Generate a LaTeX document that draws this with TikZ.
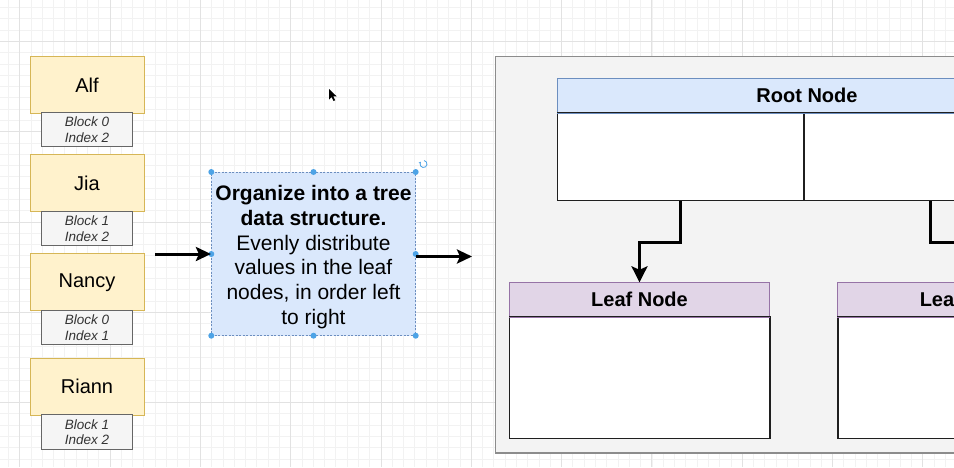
\documentclass[tikz,border=0pt]{standalone}
\usepackage{fontspec}
\setmainfont{Liberation Sans}
\usetikzlibrary{arrows.meta}

\definecolor{yelFill}{HTML}{FFF2CC}
\definecolor{yelStroke}{HTML}{D6B656}
\definecolor{tagFill}{HTML}{F5F5F5}
\definecolor{tagStroke}{HTML}{666666}
\definecolor{tagText}{HTML}{333333}
\definecolor{blueFill}{HTML}{DAE8FC}
\definecolor{blueStroke}{HTML}{6C8EBF}
\definecolor{purpleFill}{HTML}{E1D5E7}
\definecolor{purpleStroke}{HTML}{9673A6}
\definecolor{panelFill}{HTML}{F3F3F3}
\definecolor{panelStroke}{HTML}{8C8C8C}
\definecolor{handleBlue}{HTML}{4DA3E6}
\definecolor{gridMinor}{HTML}{F2F2F2}
\definecolor{gridMajor}{HTML}{E2E2E2}

\tikzset{
  namebox/.style={draw=yelStroke, fill=yelFill, line width=1pt, minimum width=114pt,
    minimum height=57pt, inner sep=0pt, font=\fontsize{20}{24}\selectfont},
  tagbox/.style={draw=tagStroke, fill=tagFill, line width=1pt, minimum width=91pt,
    minimum height=34.5pt, inner sep=0pt, align=center,
    font=\fontsize{13.5}{15.6}\selectfont\itshape, text=tagText},
  notebox/.style={draw=blueStroke, fill=blueFill, line width=0.8pt, dash pattern=on 2pt off 1.5pt,
    minimum width=204.4pt, minimum height=163.7pt, inner sep=0pt,
    font=\fontsize{21}{24.7}\selectfont},
  panel/.style={draw=panelStroke, fill=panelFill, line width=1.5pt, inner sep=0pt, anchor=north west},
  roothead/.style={draw=blueStroke, fill=blueFill, line width=1pt, inner sep=0pt, anchor=north west,
    minimum height=34pt, font=\fontsize{20}{24}\selectfont\bfseries},
  leafhead/.style={draw=purpleStroke, fill=purpleFill, line width=1pt, inner sep=0pt, anchor=north west,
    minimum width=260.6pt, minimum height=34pt, font=\fontsize{20}{24}\selectfont\bfseries},
  cell/.style={draw=black!88, fill=white, line width=1.2pt, inner sep=0pt, anchor=north west},
  flow/.style={line width=3pt, -{Stealth[length=15pt,width=14pt,inset=3pt]}},
  link/.style={line width=3pt, line join=miter, -{Stealth[length=16pt,width=16pt,inset=3.5pt]}},
  handle/.style={fill=handleBlue, draw=none},
}

\begin{document}
\begin{tikzpicture}[x=1pt,y=-1pt]
\useasboundingbox (0,0) rectangle (954,467);
\clip (0,0) rectangle (954,467);
\fill[white] (0,0) rectangle (954,467);

% background grid
\foreach \i in {0,...,91}
  \draw[gridMinor, line width=0.8pt] ({-70.64+\i*11.29},0) -- ++(0,467);
\foreach \i in {0,...,47}
  \draw[gridMinor, line width=0.8pt] (0,{-49.0+\i*11.29}) -- ++(954,0);
\foreach \i in {0,...,11}
  \draw[gridMajor, line width=0.9pt] ({-70.64+\i*90.32},0) -- ++(0,467);
\foreach \i in {0,...,6}
  \draw[gridMajor, line width=0.9pt] (0,{-49.0+\i*90.32}) -- ++(954,0);

% records with their block/index tags
\node[namebox] (alf)   at (87,85)    {Alf};
\node[tagbox]  (alfT)  at (87,129.4) {Block 0\\Index 2};
\node[namebox] (jia)   at (87,183)   {Jia};
\node[tagbox]  (jiaT)  at (87,228.7) {Block 1\\Index 2};
\node[namebox] (nancy) at (87,282.2) {Nancy};
\node[tagbox]  (nancyT) at (87,327.7) {Block 0\\Index 1};
\node[namebox] (riann) at (87,386.5) {Riann};
\node[tagbox]  (riannT) at (87,432.2) {Block 1\\Index 2};

% the organising step
\node[notebox] (step1) at (313.5,254) {\raisebox{-3.5pt}[\height][\depth]{\begin{tabular}{@{}c@{}}\textbf{Organize into a tree}\\\textbf{data structure.}\\Evenly distribute\\values in the leaf\\nodes, in order left\\to right\end{tabular}}};

% selection handles
\foreach \px/\py in {211.3/172, 313.5/172, 415.7/172, 211.3/254, 415.7/254, 211.3/335.7, 313.5/335.7, 415.7/335.7}
  \fill[handle] (\px,\py) circle (3pt);
\draw[handleBlue, line width=0.8pt, -{Stealth[length=2pt,width=2.5pt]}] (423.5,164) ++(80:3.5pt) arc[start angle=80, end angle=-220, radius=3.5pt];

% pointer
\fill[black] (329,89) -- (329,99.5) -- (331.6,97) -- (333.6,101) -- (335.2,100.2) -- (333.2,96.3) -- (336.6,96.3) -- cycle;

% flow arrows
\coordinate (inStart) at (155,254);
\coordinate (outEnd) at (472,256.5);
\draw[flow] (inStart) -- (step1.west);
\draw[flow] ([yshift=-2.5pt]step1.east) -- (outEnd);

% tree panel
\node[panel, minimum width=620pt, minimum height=396.6pt] (treePanel) at (494.7,55.7) {};

\node[roothead, minimum width=499.6pt] (rootH) at (556.7,78.3) {Root Node};
\node[cell, minimum width=246.6pt, minimum height=87.7pt] (rootL) at (556.7,112.3) {};
\node[cell, minimum width=253pt, minimum height=87.7pt] (rootR) at (803.3,112.3) {};
\draw[blueStroke, line width=1pt] (rootH.south west) -- (rootH.south east);

\node[leafhead] (leafH1) at (508.7,282.3) {Leaf Node};
\node[cell, minimum width=260.6pt, minimum height=121.4pt] (leafB1) at (508.7,316.3) {};
\draw[purpleStroke, line width=1pt] (leafH1.south west) -- (leafH1.south east);

\node[leafhead] (leafH2) at (837.3,282.3) {Leaf Node};
\node[cell, minimum width=260.6pt, minimum height=121.4pt] (leafB2) at (837.3,316.3) {};
\draw[purpleStroke, line width=1pt] (leafH2.south west) -- (leafH2.south east);

% parent to child links
\draw[link] (rootL.south) -- ++(0,41) -| (leafH1.north);
\draw[link] (rootR.south) -- ++(0,41) -| (leafH2.north);
\end{tikzpicture}
\end{document}
